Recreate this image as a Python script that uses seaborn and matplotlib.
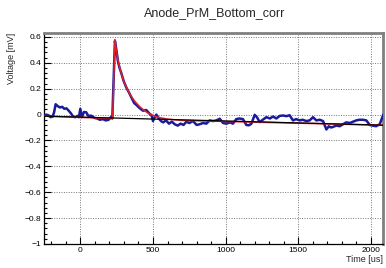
"""Anode_PrM_Bottom_corr waveform with fit, ROOT-like look."""

import matplotlib

matplotlib.use("Agg")
import matplotlib.pyplot as plt
import pandas as pd
import seaborn as sns
from matplotlib.ticker import MultipleLocator

wave_t = [
    -250, -235, -220, -205, -190, -180, -170, -155, -140, -125, -110, -95, -80,
    -65, -50, -35, -20, -10, 0, 10, 25, 40, 55, 75, 95, 115, 135, 155, 175, 195,
    210, 220, 230, 238, 248, 259, 270, 282, 298, 316, 335, 351, 370, 385, 408,
    431, 454, 477, 490, 500, 511, 523, 540, 555, 570, 590, 610, 630, 650, 670,
    690, 710, 730, 750, 775, 800, 820, 845, 867, 890, 913, 936, 959, 982, 1005,
    1030, 1050, 1073, 1095, 1119, 1142, 1160, 1177, 1200, 1215, 1234, 1255,
    1280, 1305, 1326, 1349, 1372, 1395, 1418, 1440, 1463, 1485, 1509, 1530,
    1555, 1578, 1601, 1624, 1647, 1670, 1693, 1710, 1725, 1739, 1761, 1785,
    1807, 1830, 1855, 1876, 1899, 1920, 1945, 1968, 1991, 2010, 2035, 2060,
    2075, 2085,
]
wave_v = [
    -0.01, 0.0, -0.005, -0.02, -0.015, 0.02, 0.08, 0.065, 0.055, 0.06, 0.045,
    0.048, 0.03, 0.01, -0.015, -0.02, -0.01, -0.02, 0.045, -0.02, 0.02, 0.018,
    -0.01, -0.008, -0.025, -0.03, -0.04, -0.035, -0.045, -0.04, -0.02, -0.03,
    0.3, 0.57, 0.5, 0.41, 0.36, 0.32, 0.26, 0.21, 0.17, 0.133, 0.09, 0.075,
    0.05, 0.03, 0.035, 0.006, -0.005, -0.05, -0.02, 0.0, -0.03, -0.05, -0.06,
    -0.045, -0.07, -0.055, -0.075, -0.085, -0.07, -0.08, -0.055, -0.065, -0.05,
    -0.08, -0.075, -0.065, -0.07, -0.045, -0.05, -0.045, -0.032, -0.065, -0.07,
    -0.06, -0.07, -0.035, -0.03, -0.035, -0.08, -0.083, -0.07, -0.002, -0.02,
    -0.058, -0.04, -0.02, -0.03, -0.015, -0.03, -0.01, -0.007, -0.012, -0.005,
    -0.045, -0.035, -0.045, -0.04, -0.05, -0.045, -0.02, -0.045, -0.04, -0.05,
    -0.115, -0.09, -0.1, -0.095, -0.085, -0.09, -0.075, -0.06, -0.065, -0.055,
    -0.045, -0.04, -0.04, -0.045, -0.08, -0.085, -0.09, -0.075, -0.03, 0.0,
]

# pulse fit curve
fit_t = [-250, 222, 238, 248, 259, 270, 282, 298, 316, 335, 351, 370, 385,
         408, 431, 454, 477, 530, 600, 700, 2085]
fit_v = [-0.012, -0.03, 0.58, 0.49, 0.42, 0.365, 0.32, 0.26, 0.215, 0.17,
         0.14, 0.11, 0.09, 0.062, 0.04, 0.02, 0.005, -0.02, -0.035, -0.045,
         -0.082]

# baseline fit
base_t = [-250, 2085]
base_v = [-0.012, -0.082]

sns.set_style("white")
plt.rcParams["font.family"] = ["Liberation Sans", "DejaVu Sans"]

wave = pd.DataFrame({"t": wave_t, "v": wave_v})
fit = pd.DataFrame({"t": fit_t, "v": fit_v})
base = pd.DataFrame({"t": base_t, "v": base_v})

fig = plt.figure(figsize=(3.86, 2.68), dpi=100)
ax = fig.add_axes([0.114, 0.0896, 0.878, 0.787])

sns.lineplot(data=wave, x="t", y="v", ax=ax, color="#1a1a9c", lw=1.8,
             zorder=3, estimator=None, sort=False)
sns.lineplot(data=fit, x="t", y="v", ax=ax, color="#e0202a", lw=1.1,
             zorder=4, estimator=None, sort=False)
sns.lineplot(data=base, x="t", y="v", ax=ax, color="black", lw=0.9,
             zorder=5, estimator=None, sort=False)

ax.set_xlim(-250, 2082)
ax.set_ylim(-1, 0.63)

ax.xaxis.set_major_locator(MultipleLocator(500))
ax.xaxis.set_minor_locator(MultipleLocator(100))
ax.yaxis.set_major_locator(MultipleLocator(0.2))
ax.yaxis.set_minor_locator(MultipleLocator(0.04))
ax.yaxis.set_major_formatter(lambda v, p: f"{v:.1f}".replace(".0", "").replace("-", "\u2212") if abs(v) > 1e-9 else "0")
ax.xaxis.set_major_formatter(lambda v, p: f"{v:.0f}")

ax.tick_params(which="both", direction="in", top=False, right=False,
               left=True, bottom=True, labelsize=6, pad=2, colors="black")
ax.tick_params(which="major", length=5, width=0.8)
ax.tick_params(which="minor", length=2.5, width=0.8)

ax.grid(True, which="major", color="#777777", ls=(0, (1, 1.5)), lw=0.7)

for side in ("left", "bottom"):
    ax.spines[side].set_color("black")
    ax.spines[side].set_linewidth(0.9)
for side in ("top", "right"):
    ax.spines[side].set_color("#808080")
    ax.spines[side].set_linewidth(2.0)

ax.set_xlabel("Time [us]", fontsize=6.5, loc="right", labelpad=1)
ax.set_ylabel("Voltage [mV]", fontsize=6.5, loc="top", labelpad=6)
fig.suptitle("Anode_PrM_Bottom_corr", x=0.555, y=0.975, fontsize=9)

fig.savefig("out.png", dpi=100)
